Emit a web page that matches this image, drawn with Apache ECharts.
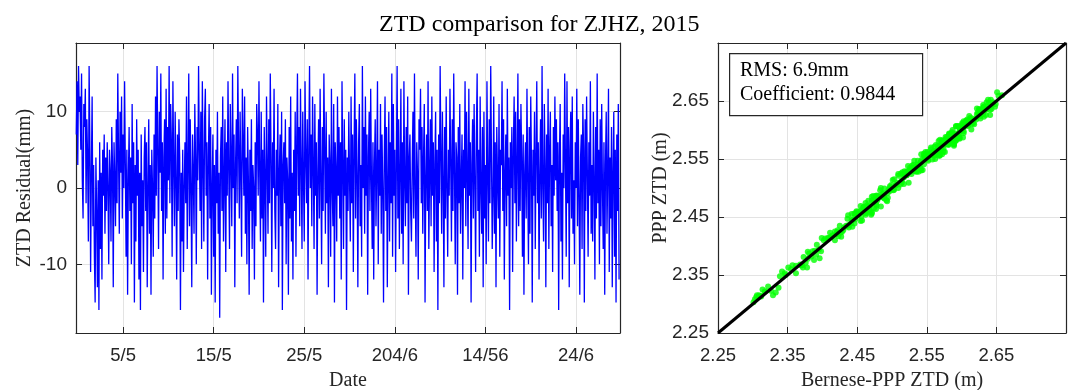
<!DOCTYPE html>
<html>
<head>
<meta charset="utf-8">
<script src="https://cdn.jsdelivr.net/npm/echarts@6/dist/echarts.min.js"></script>
<style>
  html, body { margin: 0; padding: 0; background: #fff; }
  #chart { width: 1071px; height: 390px; }
</style>
</head>
<body>
<div id="chart"></div>
<script>
// date axis: days since 1 May, ticks and their (printed) labels
const dayTicks = [4, 14, 24, 34, 44, 54];
const dayLabels = ["5/5", "15/5", "25/5", "204/6", "14/56", "24/6"];
const startDay = -1.17;
const samplesPerDay = 12;

// ZTD residual (mm), 2-hourly, one row per day
const residual = [
  7, 14, 3, 16, 10, 12, 5, 15, 1, -4, 11, 8,
  13, -2, 9, 4, -7, 16, 6, -11, 2, 12, -5, 3,
  -9, -15, 4, -3, -13, 1, -16, 6, -8, 2, -12, 5,
  -1, 7, -6, 4, -3, 6, 0, -10, 5, 2, -7, 8,
  3, -13, 6, 1, -5, 9, -2, 15, 4, -6, 10, 2,
  12, -4, 7, 0, 14, 3, -9, 5, -14, 1, 8, -3,
  4, -10, 11, -2, 6, -15, 3, -7, 9, -1, 5, -12,
  2, -16, 7, -5, 1, -11, 4, 8, -3, 6, -13, 0,
  9, -6, 3, -14, 5, 0, -9, 7, -4, 12, -1, 16,
  5, -8, 10, 2, 15, -3, 6, -12, 4, 9, -6, 13,
  -4, 8, 1, 16, -2, 11, 6, -9, 14, 3, -5, 10,
  1, -12, 7, -3, 9, 4, -16, 2, -7, 5, -11, 0,
  6, -2, 12, -8, 3, 15, -5, 9, 0, -13, 7, 2,
  -6, 11, 4, -10, 8, 1, 16, 5, -3, 10, -8, 14,
  3, -7, 9, 13, -1, 6, -12, 4, 11, -4, 8, -14,
  0, 7, -9, 3, -15, 5, -2, 10, -6, 2, -17, 4,
  8, -3, 12, -7, 1, 9, -11, 6, -1, 14, 2, -8,
  11, 4, -5, 15, 0, 7, -13, 3, 9, -2, 16, 5,
  -4, 10, 2, -9, 13, 6, -1, 12, -6, 4, -10, 8,
  1, -14, 5, -3, 9, -8, 3, 0, -12, 6, -5, 11,
  7, -1, 14, 2, -7, 10, -4, 5, -15, 8, 1, -9,
  12, 3, -6, 9, -2, 15, 4, -11, 6, 0, 13, -3,
  -8, 5, -1, 11, -13, 2, 7, -5, 10, -16, 3, 6,
  -2, 9, -10, 4, 1, -14, 8, -4, 12, -7, 2, -12,
  5, -3, 10, -9, 6, 15, -1, 8, -5, 13, 3, -8,
  10, 1, -7, 14, 4, -2, 9, -12, 5, 16, 0, 7,
  -5, 12, 3, -8, 11, -1, 6, -14, 2, 9, -4, 13,
  1, -10, 8, -3, 15, 5, -6, 10, -2, 4, -13, 7,
  3, -9, 13, 0, -5, 11, -15, 6, 2, -7, 12, -1,
  8, -4, 6, -12, 14, 3, -8, 9, -1, 5, -16, 4,
  -3, 10, 1, -7, 12, -2, 7, -11, 5, 15, -4, 9,
  2, -13, 6, 11, -5, 3, -9, 16, 0, 8, -6, 12,
  -1, 7, -14, 4, 10, -3, 13, 1, -8, 6, -12, 3,
  9, -5, 2, 14, -10, 5, -1, 11, -6, 7, 0, -15,
  4, 12, -3, 8, -13, 1, 10, -7, 6, -2, 15, -9,
  11, -1, 5, -11, 3, 16, -4, 9, -8, 2, 13, -6,
  6, -10, 14, 1, -5, 8, -2, 12, -14, 4, 7, -3,
  -7, 3, 10, -4, 15, 0, -9, 6, 2, -12, 9, 5,
  13, -2, 8, -6, 4, 11, -15, 1, 7, -3, 14, -8,
  2, 9, -5, 12, -1, 6, -11, 3, 10, -7, 5, -16,
  7, -2, 16, 4, -6, 10, 1, -13, 8, -4, 12, 0,
  -9, 5, -1, 13, 3, -7, 9, -3, 15, 2, -10, 6,
  4, -14, 8, -2, 11, -6, 1, 7, -12, 5, 0, 14,
  -5, 10, 2, -8, 13, -1, 6, -15, 3, 9, -4, 11,
  1, -11, 7, 15, -3, 5, -9, 12, 0, -6, 8, -13,
  10, -4, 3, -10, 14, 2, -7, 9, -2, 16, 4, -8,
  -1, 12, -6, 6, -13, 8, 1, -4, 11, -9, 5, 3,
  14, -3, 9, -12, 2, 7, -5, 13, -1, 4, -16, 6,
  0, 8, -11, 5, 12, -2, 10, -7, 3, 15, -5, 9,
  -3, 11, 4, -9, 7, -14, 2, 6, -4, 13, 1, -10,
  8, -6, 12, 3, -15, 5, -1, 10, -8, 4, 14, -2,
  6, -12, 2, 9, -4, 16, 0, -7, 11, 3, -13, 7,
  -2, 13, -8, 5, 10, -5, 3, -11, 8, -1, 12, 1,
  9, -3, 6, -16, 4, 11, -7, 2, -12, 7, 0, 15,
  3, -9, 14, -2, 8, -13, 5, 10, -4, 12, -6, 1,
  -10, 6, 0, 13, -5, 9, -1, -14, 4, 7, -8, 11,
  5, -15, 9, -3, 12, 2, -9, 6, -1, 14, -6, 3,
  -7, 10, 1, -12, 8, -4, 15, -2, 5, -10, 9, -5,
  11, 0, -8, 6, -14, 3, 10, -6, 2, 13, -11, 4,
  -4, 8, -13, 2, 10, -9, 5, -15, 7, -3, 11, -12
];

// Bernese-PPP ZTD (m), 4-hourly (every second residual epoch)
const berneseZtd = [
  2.418, 2.421, 2.425, 2.422, 2.431, 2.436, 2.442, 2.449, 2.446, 2.455, 2.461, 2.468,
  2.474, 2.481, 2.477, 2.470, 2.462, 2.455, 2.447, 2.438, 2.430, 2.421, 2.409, 2.398,
  2.389, 2.381, 2.376, 2.369, 2.362, 2.357, 2.351, 2.346, 2.342, 2.337, 2.329, 2.322,
  2.317, 2.314, 2.309, 2.311, 2.306, 2.303, 2.301, 2.305, 2.312, 2.318, 2.326, 2.333,
  2.339, 2.347, 2.355, 2.362, 2.371, 2.379, 2.386, 2.392, 2.399, 2.408, 2.414, 2.423,
  2.428, 2.434, 2.441, 2.447, 2.455, 2.462, 2.468, 2.473, 2.477, 2.484, 2.489, 2.494,
  2.499, 2.503, 2.497, 2.488, 2.479, 2.471, 2.463, 2.455, 2.448, 2.437, 2.426, 2.418,
  2.412, 2.404, 2.395, 2.388, 2.379, 2.373, 2.368, 2.372, 2.378, 2.384, 2.391, 2.396,
  2.402, 2.411, 2.419, 2.427, 2.436, 2.443, 2.449, 2.456, 2.462, 2.471, 2.478, 2.484,
  2.489, 2.495, 2.501, 2.506, 2.512, 2.517, 2.521, 2.526, 2.531, 2.537, 2.542, 2.546,
  2.551, 2.548, 2.541, 2.533, 2.524, 2.517, 2.509, 2.502, 2.494, 2.486, 2.479, 2.473,
  2.468, 2.461, 2.457, 2.451, 2.446, 2.442, 2.438, 2.443, 2.451, 2.459, 2.466, 2.474,
  2.481, 2.489, 2.497, 2.506, 2.514, 2.522, 2.529, 2.535, 2.541, 2.546, 2.552, 2.557,
  2.561, 2.558, 2.551, 2.543, 2.535, 2.528, 2.521, 2.516, 2.509, 2.503, 2.497, 2.492,
  2.488, 2.483, 2.477, 2.471, 2.466, 2.462, 2.459, 2.464, 2.471, 2.478, 2.486, 2.493,
  2.501, 2.508, 2.515, 2.522, 2.529, 2.536, 2.541, 2.547, 2.552, 2.558, 2.563, 2.567,
  2.571, 2.576, 2.582, 2.587, 2.592, 2.597, 2.601, 2.598, 2.591, 2.583, 2.574, 2.566,
  2.559, 2.552, 2.544, 2.537, 2.529, 2.523, 2.518, 2.522, 2.528, 2.534, 2.541, 2.546,
  2.551, 2.556, 2.561, 2.567, 2.572, 2.577, 2.581, 2.586, 2.592, 2.597, 2.603, 2.607,
  2.611, 2.613, 2.608, 2.602, 2.597, 2.592, 2.589, 2.583, 2.576, 2.568, 2.561, 2.554,
  2.549, 2.542, 2.535, 2.527, 2.519, 2.513, 2.509, 2.514, 2.519, 2.526, 2.532, 2.538,
  2.542, 2.549, 2.556, 2.563, 2.569, 2.576, 2.581, 2.588, 2.594, 2.601, 2.608, 2.614,
  2.619, 2.623, 2.627, 2.632, 2.636, 2.639, 2.642, 2.645, 2.638, 2.627, 2.616, 2.607,
  2.601, 2.596, 2.589, 2.583, 2.577, 2.572, 2.569, 2.573, 2.577, 2.581, 2.586, 2.589,
  2.592, 2.597, 2.603, 2.608, 2.613, 2.617, 2.621, 2.624, 2.628, 2.626, 2.631, 2.633,
  2.632, 2.636, 2.641, 2.644, 2.648, 2.651, 2.653, 2.658, 2.649, 2.637, 2.625, 2.614,
  2.609, 2.603, 2.597, 2.591, 2.586, 2.582, 2.579, 2.574, 2.569, 2.566, 2.562, 2.559,
  2.561, 2.567, 2.572, 2.578, 2.584, 2.588, 2.592, 2.597, 2.603, 2.609, 2.614, 2.618,
  2.622, 2.626, 2.631, 2.635, 2.638, 2.641, 2.643, 2.639, 2.631, 2.622, 2.613, 2.606,
  2.601, 2.595, 2.589, 2.583, 2.578, 2.574, 2.571, 2.568, 2.572, 2.569, 2.566, 2.563
];

// 1:1 reference line end points (m)
const oneToOne = [2.25, 2.75];

const residualTicks = [-10, 0, 10];
const ztdMin = 2.25;
const ztdMax = 2.75;

const serif = "Liberation Serif";
const sans = "Liberation Sans";
const axisColor = "#262626";
const gridColor = "#e3e3e3";

const residualLine = residual.map((v, i) => [startDay + i / samplesPerDay, v]);
// PPP = Bernese + residual at the matching epoch
const pppZtd = berneseZtd.map((b, i) => [b, +(b + residual[i * 2] / 1000).toFixed(4)]);

const frameAxis = (extra) => Object.assign({
  type: "value",
  nameMoveOverlap: false,
  axisLine: { show: true, onZero: false, lineStyle: { color: axisColor, width: 1.2 } },
  axisTick: { show: true, inside: true, length: 6, lineStyle: { color: axisColor } },
  axisLabel: { show: false },
  splitLine: { show: false },
}, extra);

const chart = echarts.init(document.getElementById("chart"));
chart.setOption({
  animation: false,
  backgroundColor: "#fff",
  title: {
    text: "ZTD comparison for ZJHZ, 2015",
    left: 374,
    top: 8,
    textStyle: { fontFamily: serif, fontSize: 24, fontWeight: "normal", color: "#000" },
  },
  grid: [
    { left: 76, right: 451, top: 43, bottom: 57, outerBoundsMode: "none" },
    { left: 718, right: 5, top: 43, bottom: 57, outerBoundsMode: "none" },
  ],
  xAxis: [
    frameAxis({
      gridIndex: 0,
      min: -1.2,
      max: 58.85,
      position: "bottom",
      name: "Date",
      nameLocation: "middle",
      nameGap: 38,
      nameTextStyle: { fontFamily: serif, fontSize: 20, color: axisColor },
      axisTick: { show: true, inside: true, length: 6, customValues: dayTicks, lineStyle: { color: axisColor } },
      axisLabel: {
        show: true,
        customValues: dayTicks,
        margin: 13,
        fontFamily: sans,
        fontSize: 18.5,
        color: axisColor,
        formatter: (v) => dayLabels[dayTicks.indexOf(Math.round(v))] || "",
      },
      splitLine: { show: true, lineStyle: { color: gridColor } },
    }),
    frameAxis({
      gridIndex: 0,
      min: -1.2,
      max: 58.85,
      position: "top",
      axisTick: { show: true, inside: true, length: 6, customValues: dayTicks, lineStyle: { color: axisColor } },
    }),
    frameAxis({
      gridIndex: 1,
      min: ztdMin,
      max: ztdMax,
      interval: 0.1,
      position: "bottom",
      name: "Bernese-PPP ZTD (m)",
      nameLocation: "middle",
      nameGap: 38,
      nameTextStyle: { fontFamily: serif, fontSize: 20, color: axisColor },
      axisLabel: {
        show: true,
        margin: 13,
        fontFamily: sans,
        fontSize: 18.5,
        color: axisColor,
        formatter: (v) => (v > 2.7 ? "" : v.toFixed(2)),
      },
      splitLine: { show: true, lineStyle: { color: gridColor } },
    }),
    frameAxis({ gridIndex: 1, min: ztdMin, max: ztdMax, interval: 0.1, position: "top" }),
  ],
  yAxis: [
    frameAxis({
      gridIndex: 0,
      min: -19,
      max: 19,
      position: "left",
      name: "ZTD Residual(mm)",
      nameLocation: "middle",
      nameGap: 41,
      nameTextStyle: { fontFamily: serif, fontSize: 20, color: axisColor },
      axisTick: { show: true, inside: true, length: 6, customValues: residualTicks, lineStyle: { color: axisColor } },
      axisLabel: {
        show: true,
        customValues: residualTicks,
        margin: 9,
        fontFamily: sans,
        fontSize: 19,
        color: axisColor,
      },
      splitLine: { show: true, lineStyle: { color: gridColor } },
    }),
    frameAxis({
      gridIndex: 0,
      min: -19,
      max: 19,
      position: "right",
      axisTick: { show: true, inside: true, length: 6, customValues: residualTicks, lineStyle: { color: axisColor } },
    }),
    frameAxis({
      gridIndex: 1,
      min: ztdMin,
      max: ztdMax,
      interval: 0.1,
      position: "left",
      name: "PPP ZTD (m)",
      nameLocation: "middle",
      nameGap: 47,
      nameTextStyle: { fontFamily: serif, fontSize: 20, color: axisColor },
      axisLabel: {
        show: true,
        margin: 9,
        fontFamily: sans,
        fontSize: 19,
        color: axisColor,
        formatter: (v) => (v > 2.7 ? "" : v.toFixed(2)),
      },
      splitLine: { show: true, lineStyle: { color: gridColor } },
    }),
    frameAxis({ gridIndex: 1, min: ztdMin, max: ztdMax, interval: 0.1, position: "right" }),
  ],
  graphic: [
    {
      type: "rect",
      left: 729,
      top: 53,
      z: 100,
      shape: { width: 193, height: 62 },
      style: { fill: "#fff", stroke: axisColor, lineWidth: 1.2 },
    },
    {
      type: "text",
      left: 740,
      top: 61,
      z: 101,
      style: { text: "RMS: 6.9mm", font: "20px " + serif, fill: "#000" },
    },
    {
      type: "text",
      left: 740,
      top: 85,
      z: 101,
      style: { text: "Coefficient: 0.9844", font: "20px " + serif, fill: "#000" },
    },
  ],
  series: [
    {
      name: "residual",
      type: "line",
      xAxisIndex: 0,
      yAxisIndex: 0,
      data: residualLine,
      symbol: "none",
      lineStyle: { color: "#0000ff", width: 1.3 },
    },
    {
      name: "scatter",
      type: "scatter",
      xAxisIndex: 2,
      yAxisIndex: 2,
      data: pppZtd,
      symbol: "circle",
      symbolSize: 6,
      itemStyle: { color: "#00ff00" },
    },
    {
      name: "1:1",
      type: "line",
      xAxisIndex: 2,
      yAxisIndex: 2,
      data: oneToOne.map((v) => [v, v]),
      symbol: "none",
      z: 5,
      lineStyle: { color: "#000", width: 3 },
    },
  ],
});

window.addEventListener("resize", () => chart.resize());
</script>
</body>
</html>
